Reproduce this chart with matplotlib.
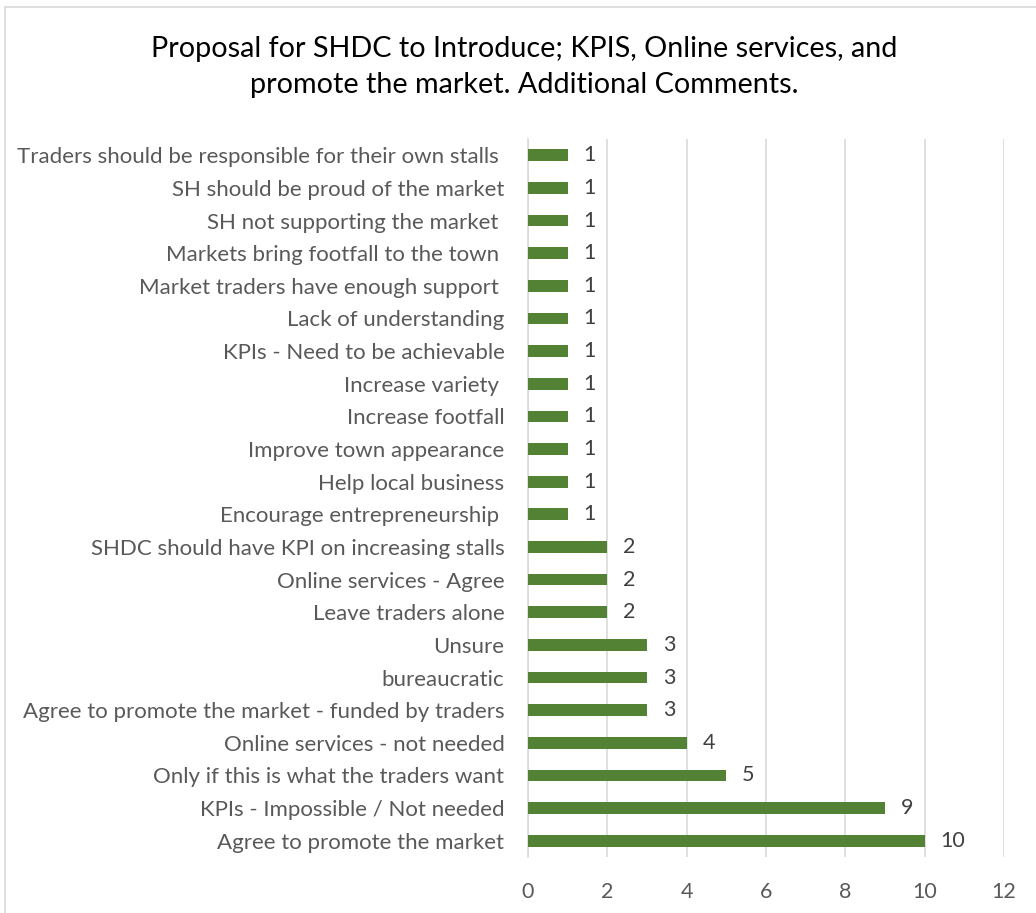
import matplotlib
matplotlib.use("Agg")
import matplotlib.pyplot as plt
from matplotlib.patches import Rectangle

categories = [
    "Agree to promote the market",
    "KPIs - Impossible / Not needed",
    "Only if this is what the traders want",
    "Online services - not needed",
    "Agree to promote the market - funded by traders",
    "bureaucratic",
    "Unsure",
    "Leave traders alone",
    "Online services - Agree",
    "SHDC should have KPI on increasing stalls",
    "Encourage entrepreneurship ",
    "Help local business",
    "Improve town appearance",
    "Increase footfall",
    "Increase variety ",
    "KPIs - Need to be achievable",
    "Lack of understanding",
    "Market traders have enough support ",
    "Markets bring footfall to the town ",
    "SH not supporting the market ",
    "SH should be proud of the market",
    "Traders should be responsible for their own stalls ",
]
values = [10, 9, 5, 4, 3, 3, 3, 2, 2, 2, 1, 1, 1, 1, 1, 1, 1, 1, 1, 1, 1, 1]
xticks = [0, 2, 4, 6, 8, 10, 12]
title = "Proposal for SHDC to Introduce; KPIS, Online services, and\npromote the market. Additional Comments."

plt.rcParams['font.family'] = ['Lato', 'DejaVu Sans']

fig = plt.figure(figsize=(10.36, 9.13), dpi=100)
fig.patches.append(Rectangle((5/1036, -0.01), 1.02, 1 - 7/913 + 0.01, transform=fig.transFigure,
                             fill=False, edgecolor='#d9d9d9', linewidth=1.2))
ax = fig.add_axes([528/1036, 1 - 857/913, (1004 - 528)/1036, (857 - 139)/913])

y = list(range(len(categories)))
ax.barh(y, values, height=0.36, color='#548235', zorder=3)
for yi, v in zip(y, values):
    ax.text(v + 0.4, yi, str(v), va='center', ha='left', fontsize=15.5, color='#404040')

ax.set_xlim(0, 12)
ax.set_ylim(-0.5, len(categories) - 0.5)
ax.set_xticks(xticks)
ax.set_xticklabels([str(t) for t in xticks], fontsize=15.5, color='#595959')
ax.tick_params(axis='both', length=0)
ax.tick_params(axis='x', pad=18)
ax.set_yticks(y)
ax.set_yticklabels(categories, fontsize=16, color='#595959')
ax.tick_params(axis='y', pad=17)
ax.grid(axis='x', color='#d9d9d9', linewidth=1.2, zorder=0)
for s in ['top', 'right', 'bottom']:
    ax.spines[s].set_visible(False)
ax.spines['left'].set_color('#d9d9d9')
ax.spines['left'].set_linewidth(1.2)

fig.text(524/1036, 1 - 67/913, title, ha='center', va='center', fontsize=20.7, color='#000000',
         linespacing=1.5)

fig.savefig("out.png", dpi=100)
